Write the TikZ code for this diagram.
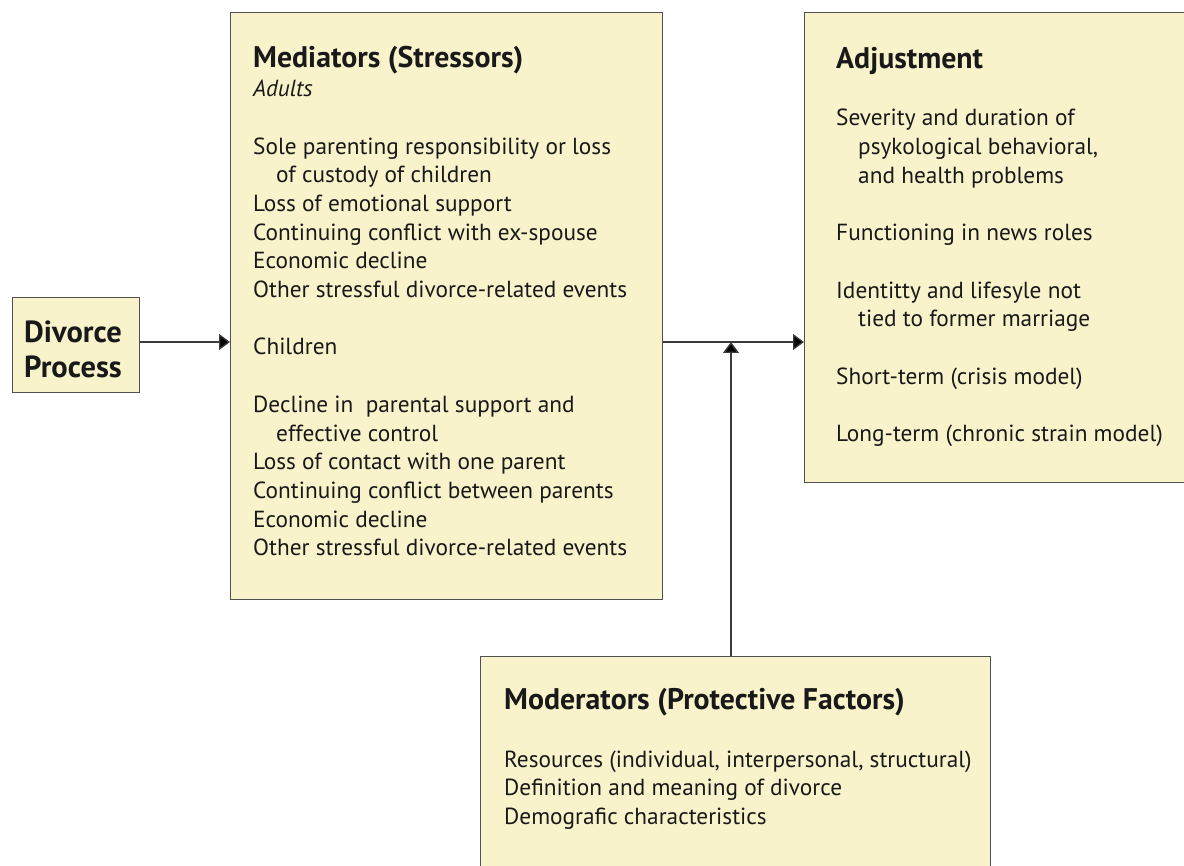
\documentclass[tikz,border=0pt]{standalone}
\usepackage{fontspec}
\setmainfont{PT Sans}
\usetikzlibrary{arrows.meta}
\definecolor{boxfill}{RGB}{249,243,203}
\definecolor{boxline}{RGB}{80,80,80}
\definecolor{txt}{RGB}{25,25,25}
\definecolor{conn}{RGB}{60,60,60}
\tikzset{
  box/.style={draw=boxline, line width=1.3pt, fill=boxfill, inner sep=0pt},
  body/.style={anchor=base west, inner sep=0pt, text=txt, font=\fontsize{23.3}{28}\selectfont},
  head/.style={anchor=base west, inner sep=0pt, text=txt, font=\bfseries\fontsize{29.8}{34}\selectfont},
  arr/.style={draw=conn, line width=1.3pt, -{Triangle[length=11pt,width=16pt,fill=black]}},
}
\begin{document}
\begin{tikzpicture}[x=1pt,y=-1pt]
\useasboundingbox (0,0) rectangle (1184,866);
\clip (0,0) rectangle (1184,866);
% boxes
\node[box, minimum width=127pt, minimum height=95pt, anchor=north west] (dp) at (12,297) {};
\node[box, minimum width=432pt, minimum height=587pt, anchor=north west] (med) at (230,12) {};
\node[box, minimum width=390pt, minimum height=470pt, anchor=north west] (adj) at (804,12) {};
\node[box, minimum width=510pt, minimum height=230pt, anchor=north west] (mod) at (480,656) {};
% divorce process
\node[anchor=base west, inner sep=0pt, text=txt, font=\bfseries\fontsize{30.5}{34}\selectfont] (dp1) at (24,343) {Divorce};
\node[anchor=base west, inner sep=0pt, text=txt, font=\bfseries\fontsize{30.5}{34}\selectfont] (dp2) at (24,378) {Process};
% mediators
\node[head] (m0) at (253,68) {Mediators (Stressors)};
\node[body, font=\itshape\fontsize{23.3}{28}\selectfont] (m1) at (253,96.7) {Adults};
\node[body] (m3) at (253,154.1) {Sole parenting responsibility or loss};
\node[body] (m4) at (276,182.8) {of custody of children};
\node[body] (m5) at (253,211.5) {Loss of emotional support};
\node[body] (m6) at (253,240.2) {Continuing conflict with ex-spouse};
\node[body] (m7) at (253,268.9) {Economic decline};
\node[body] (m8) at (253,297.6) {Other stressful divorce-related events};
\node[body] (m10) at (253,355) {Children};
\node[body] (m12) at (253,412.4) {Decline in\ \ parental support and};
\node[body] (m13) at (276,441.1) {effective control};
\node[body] (m14) at (253,469.8) {Loss of contact with one parent};
\node[body] (m15) at (253,498.5) {Continuing conflict between parents};
\node[body] (m16) at (253,527.2) {Economic decline};
\node[body] (m17) at (253,555.9) {Other stressful divorce-related events};
% adjustment
\node[head] (a0) at (836,68.5) {Adjustment};
\node[body] (a2) at (836,125.9) {Severity and duration of};
\node[body] (a3) at (858,154.6) {psykological behavioral,};
\node[body] (a4) at (858,183.3) {and health problems};
\node[body] (a6) at (836,240.7) {Functioning in news roles};
\node[body] (a8) at (836,298.1) {Identitty and lifesyle not};
\node[body] (a9) at (858,326.8) {tied to former marriage};
\node[body] (a11) at (836,384.2) {Short-term (crisis model)};
\node[body] (a13) at (836,441.6) {Long-term (chronic strain model)};
% moderators
\node[head] (o0) at (504,709) {Moderators (Protective Factors)};
\node[body] (o2) at (504,767) {Resources (individual, interpersonal, structural)};
\node[body] (o3) at (504,795.7) {Definition and meaning of divorce};
\node[body] (o4) at (504,824.4) {Demografic characteristics};
% connectors
\coordinate (j) at (731,342);
\draw[arr] (dp.east |- j) -- (med.west |- j);
\draw[arr] (med.east |- j) -- (adj.west |- j);
\draw[arr] (j |- mod.north) -- (j);
\end{tikzpicture}
\end{document}
